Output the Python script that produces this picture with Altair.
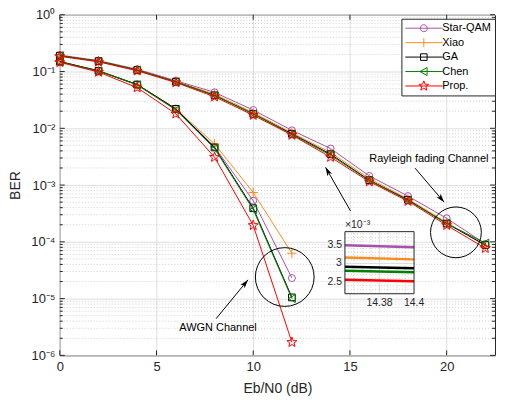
import math
import json
import altair as alt
import pandas as pd

FONT = "Liberation Sans"

# ---------------- data ----------------
series = ["Star-QAM", "Xiao", "GA", "Chen", "Prop."]
series_colors = ["#A652AC", "#FF8C1A", "#000000", "#008000", "#FF0000"]

snr_rayleigh = [0, 2, 4, 6, 8, 10, 12, 14, 16, 18, 20, 22]
star_rayleigh = [0.195, 0.156, 0.110, 0.069, 0.043, 0.021, 0.0092, 0.0044, 0.00145, 0.00064, 0.00026, 0.000092]
xiao_rayleigh = [0.190, 0.153, 0.107, 0.067, 0.040, 0.019, 0.0083, 0.00375, 0.0013, 0.00057, 0.00022, 0.000085]
ga_rayleigh = [0.190, 0.152, 0.106, 0.066, 0.038, 0.018, 0.0080, 0.0035, 0.00122, 0.00055, 0.00021, 0.000088]
chen_rayleigh = [0.190, 0.152, 0.106, 0.066, 0.038, 0.018, 0.0078, 0.00335, 0.0012, 0.00054, 0.00021, 0.000095]
prop_rayleigh = [0.185, 0.148, 0.103, 0.064, 0.036, 0.017, 0.0076, 0.0031, 0.00115, 0.00052, 0.000196, 0.000077]

snr_awgn = [0, 2, 4, 6, 8, 10, 12]
star_awgn = [0.150, 0.103, 0.059, 0.022, 0.0047, 0.00053, 0.000023]
xiao_awgn = [0.150, 0.103, 0.059, 0.022, 0.0053, 0.00074, 0.000063]
ga_awgn = [0.150, 0.103, 0.059, 0.022, 0.0046, 0.00039, 0.0000105]
chen_awgn = [0.148, 0.102, 0.058, 0.021, 0.0044, 0.00037, 0.0000100]
prop_awgn = [0.145, 0.098, 0.052, 0.018, 0.0031, 0.000195, 0.0000017]

x_ticks = [0, 5, 10, 15, 20]
y_ticks = [1, 0.1, 0.01, 0.001, 0.0001, 0.00001, 0.000001]
y_tick_labels = ["10\u2070", "10\u207b\u00b9", "10\u207b\u00b2", "10\u207b\u00b3",
                 "10\u207b\u2074", "10\u207b\u2075", "10\u207b\u2076"]

# zoomed inset (around Eb/N0 = 14.38 .. 14.4)
inset_x = [14.36, 14.40]
inset_star = [3.49, 3.44]
inset_xiao = [3.16, 3.11]
inset_ga = [2.91, 2.87]
inset_chen = [2.80, 2.76]
inset_prop = [2.56, 2.52]
inset_x_domain = [14.36, 14.40]
inset_y_domain = [2.18, 3.86]
inset_y_ticks = [2.5, 3.0, 3.5]
inset_y_labels = ["2.5", "3", "3.5"]
inset_x_ticks = [14.38, 14.40]
inset_x_labels = ["14.38", "14.4"]

# annotations
note_text = ["Rayleigh fading Channel", "AWGN Channel"]
note_x = [16.0, 6.18]
note_y = [0.00293, 0.00000299]
circle_x = [20.48, 11.63]
circle_y = [0.000147, 0.000024]
circle_d = [51, 59]
arrow_x1 = [18.37, 15.03, 8.08]
arrow_y1 = [0.00198, 0.00035, 0.00000443]
arrow_x2 = [19.87, 13.74, 9.73]
arrow_y2 = [0.00050, 0.00205, 0.0000214]
arrow_angle = [140, 331, 39]

# ---------------- layout / styles ----------------
W, H = 437, 342
K = H / 351.0
TXT = "#262626"
GRID = "#dedede"

series_rayleigh = [star_rayleigh, xiao_rayleigh, ga_rayleigh, chen_rayleigh, prop_rayleigh]
series_awgn = [star_awgn, xiao_awgn, ga_awgn, chen_awgn, prop_awgn]
series_inset = [inset_star, inset_xiao, inset_ga, inset_chen, inset_prop]


def star_path(cx=0.0, R=1.0, r=0.42):
    pts = []
    for i in range(10):
        ang = math.radians(-90 + 36 * i)
        rad = R if i % 2 == 0 else r
        pts.append((cx + rad * math.cos(ang), rad * math.sin(ang)))
    return "M" + "L".join(f"{x:.4f},{y:.4f}" for x, y in pts) + "Z"


marker_shapes = ["circle", "M-1,0L1,0M0,-1L0,1", "square", "triangle-left", star_path()]
marker_sizes = [49, 90, 45, 64, 110]

# legend symbols: a 38 px line with the marker in its middle
LS = 36
u = 2.0 / LS            # one pixel in path units
hl = 19 * u             # half line length
LINE = f"M{-hl:.4f},0L{hl:.4f},0"
legend_paths = [
    LINE + f"M{3.5*u:.4f},0A{3.5*u:.4f},{3.5*u:.4f} 0 1,1 {-3.5*u:.4f},0A{3.5*u:.4f},{3.5*u:.4f} 0 1,1 {3.5*u:.4f},0",
    LINE + f"M0,{-4.5*u:.4f}L0,{4.5*u:.4f}",
    LINE + f"M{-3.3*u:.4f},{-3.3*u:.4f}L{3.3*u:.4f},{-3.3*u:.4f}L{3.3*u:.4f},{3.3*u:.4f}L{-3.3*u:.4f},{3.3*u:.4f}Z",
    LINE + f"M{-3.8*u:.4f},0L{3.3*u:.4f},{-4*u:.4f}L{3.3*u:.4f},{4*u:.4f}Z",
    LINE + star_path(0.0, 5.2 * u, 2.2 * u),
]

x_scale = alt.Scale(domain=[0, 22.5], nice=False, zero=False)
y_scale = alt.Scale(type="log", domain=[1e-6, 1], nice=False)

axis_x = alt.Axis(values=x_ticks, title="Eb/N0 (dB)", grid=True, gridColor=GRID, gridWidth=1,
                  domain=False, ticks=False, labelFontSize=13, titleFontSize=14,
                  labelPadding=5, titlePadding=8, labelColor=TXT, titleColor=TXT,
                  labelFont=FONT, titleFont=FONT, titleFontWeight="normal", labelFlush=False)
axis_y = alt.Axis(values=y_ticks, title="BER", grid=True, gridColor=GRID, gridWidth=1,
                  domain=False, ticks=False, labelFontSize=13, titleFontSize=14,
                  labelPadding=5, titlePadding=8, labelColor=TXT, titleColor=TXT,
                  labelFont=FONT, titleFont=FONT, titleFontWeight="normal", labelFlush=False,
                  labelExpr=json.dumps(y_tick_labels, ensure_ascii=False)
                  + "[round(-log(datum.value)/LN10)]")

X = lambda f: alt.X(f, type="quantitative", scale=x_scale, axis=axis_x)
Y = lambda f: alt.Y(f, type="quantitative", scale=y_scale, axis=axis_y)

main_layers = []

# minor log grid (dotted)
minor_vals = [m * 10.0 ** e for e in range(-6, 0) for m in range(2, 10)]
minor_df = pd.DataFrame({"y": minor_vals})
main_layers.append(alt.Chart(minor_df).mark_rule(color="#cfcfcf", strokeDash=[1, 2], strokeWidth=1)
                   .encode(y=Y("y")))

# inside ticks (box style)
maj_df = pd.DataFrame({"y": y_ticks})
xt_df = pd.DataFrame({"x": x_ticks})
for xa, xb in [(0, 5), (W, W - 5)]:
    main_layers.append(alt.Chart(maj_df).mark_rule(color=TXT, strokeWidth=1)
                       .encode(y=Y("y"), x=alt.value(xa), x2=alt.value(xb)))
for xa, xb in [(0, 3), (W, W - 3)]:
    main_layers.append(alt.Chart(minor_df).mark_rule(color=TXT, strokeWidth=1)
                       .encode(y=Y("y"), x=alt.value(xa), x2=alt.value(xb)))
for ya, yb in [(H, H - 5), (0, 5)]:
    main_layers.append(alt.Chart(xt_df).mark_rule(color=TXT, strokeWidth=1)
                       .encode(x=X("x"), y=alt.value(ya), y2=alt.value(yb)))

# series
for name, col, shp, sz, ray, awg in zip(series, series_colors, marker_shapes, marker_sizes,
                                        series_rayleigh, series_awgn):
    df = pd.concat([
        pd.DataFrame({"x": snr_rayleigh, "y": ray, "ch": "Rayleigh"}),
        pd.DataFrame({"x": snr_awgn, "y": awg, "ch": "AWGN"}),
    ], ignore_index=True)
    main_layers.append(alt.Chart(df).mark_line(color=col, strokeWidth=1)
                       .encode(x=X("x"), y=Y("y"), detail="ch:N", order="x:Q"))
    main_layers.append(alt.Chart(df).mark_point(color=col, filled=False, strokeWidth=1, opacity=1,
                                                shape=shp, size=sz)
                       .encode(x=X("x"), y=Y("y")))

# annotations: circles, arrows, text
circ_df = pd.DataFrame({"x": circle_x, "y": circle_y, "s": [d * d for d in circle_d]})
main_layers.append(alt.Chart(circ_df).mark_point(shape="circle", filled=False, color="black",
                                                 strokeWidth=1, opacity=1)
                   .encode(x=X("x"), y=Y("y"), size=alt.Size("s:Q", scale=None, legend=None)))
arr_df = pd.DataFrame({"x": arrow_x1, "y": arrow_y1, "x2": arrow_x2, "y2": arrow_y2, "a": arrow_angle})
main_layers.append(alt.Chart(arr_df).mark_rule(color="black", strokeWidth=1)
                   .encode(x=X("x"), y=Y("y"), x2="x2", y2="y2"))
main_layers.append(alt.Chart(arr_df).mark_point(shape="M0,0L-1,3.2L0,2.4L1,3.2Z", filled=True,
                                                color="black", size=30, opacity=1)
                   .encode(x=X("x2"), y=Y("y2"), angle=alt.Angle("a:Q", scale=None)))
note_df = pd.DataFrame({"x": note_x, "y": note_y, "t": note_text})
main_layers.append(alt.Chart(note_df).mark_text(align="left", baseline="middle", fontSize=11,
                                                font=FONT, color="black")
                   .encode(x=X("x"), y=Y("y"), text="t:N"))

# legend (legend-only layer)
leg = alt.Legend(title=None, orient="none", legendX=343, legendY=4, symbolSize=LS * LS,
                 clipHeight=11, symbolStrokeWidth=1, labelOffset=0, padding=4, rowPadding=2.5,
                 labelFontSize=11, labelFont=FONT, labelColor="black", strokeColor=TXT,
                 fillColor="white", cornerRadius=0)
leg_df = pd.DataFrame({"series": series})
main_layers.append(alt.Chart(leg_df).transform_filter("datum.series == '__none__'")
                   .mark_point(filled=False, strokeWidth=1, opacity=1)
                   .encode(color=alt.Color("series:N", scale=alt.Scale(domain=series, range=series_colors), legend=leg),
                           shape=alt.Shape("series:N", scale=alt.Scale(domain=series, range=legend_paths), legend=leg)))

main = alt.layer(*main_layers)

# ---------------- inset ----------------
ix = alt.Scale(domain=inset_x_domain, range=[286.3, 355.7], nice=False, zero=False)
iy = alt.Scale(domain=inset_y_domain, range=[287.5 * K, 223.5 * K], nice=False, zero=False)
IX = lambda f: alt.X(f, type="quantitative", scale=ix, axis=None)
IY = lambda f: alt.Y(f, type="quantitative", scale=iy, axis=None)

box_df = pd.DataFrame({"x0": [inset_x_domain[0]], "x1": [inset_x_domain[1]],
                       "y0": [inset_y_domain[0]], "y1": [inset_y_domain[1]]})
inset_layers = []
inset_layers.append(alt.Chart(box_df).mark_rect(fill="white")
                    .encode(x=IX("x0"), x2="x1", y=IY("y0"), y2="y1"))
vminor = [14.365, 14.37, 14.375, 14.385, 14.39, 14.395]
hminor = [v / 10 for v in range(22, 39) if v not in (25, 30, 35)]
vm_df = pd.DataFrame({"x": vminor, "y0": inset_y_domain[0], "y1": inset_y_domain[1]})
hm_df = pd.DataFrame({"y": hminor, "x0": inset_x_domain[0], "x1": inset_x_domain[1]})
inset_layers.append(alt.Chart(vm_df).mark_rule(color="#cfcfcf", strokeDash=[1, 2])
                    .encode(x=IX("x"), y=IY("y0"), y2="y1"))
inset_layers.append(alt.Chart(hm_df).mark_rule(color="#cfcfcf", strokeDash=[1, 2])
                    .encode(y=IY("y"), x=IX("x0"), x2="x1"))
vg_df = pd.DataFrame({"x": [inset_x_ticks[0]], "y0": inset_y_domain[0], "y1": inset_y_domain[1]})
hg_df = pd.DataFrame({"y": inset_y_ticks, "x0": inset_x_domain[0], "x1": inset_x_domain[1]})
inset_layers.append(alt.Chart(vg_df).mark_rule(color=GRID)
                    .encode(x=IX("x"), y=IY("y0"), y2="y1"))
inset_layers.append(alt.Chart(hg_df).mark_rule(color=GRID)
                    .encode(y=IY("y"), x=IX("x0"), x2="x1"))
for col, vals in zip(series_colors, series_inset):
    idf = pd.DataFrame({"x": inset_x, "y": vals})
    inset_layers.append(alt.Chart(idf).mark_line(color=col, strokeWidth=2.5)
                        .encode(x=IX("x"), y=IY("y")))
inset_layers.append(alt.Chart(box_df).mark_rect(fillOpacity=0, stroke=TXT, strokeWidth=1)
                    .encode(x=IX("x0"), x2="x1", y=IY("y0"), y2="y1"))
iyl_df = pd.DataFrame({"y": inset_y_ticks, "t": inset_y_labels, "x": inset_x_domain[0]})
inset_layers.append(alt.Chart(iyl_df).mark_text(align="right", baseline="middle", dx=-3,
                                                fontSize=10.5, font=FONT, color=TXT)
                    .encode(x=IX("x"), y=IY("y"), text="t:N"))
ixl_df = pd.DataFrame({"x": inset_x_ticks, "t": inset_x_labels, "y": inset_y_domain[0]})
inset_layers.append(alt.Chart(ixl_df).mark_text(align="center", baseline="middle", dy=9,
                                                fontSize=10.5, font=FONT, color=TXT)
                    .encode(x=IX("x"), y=IY("y"), text="t:N"))
exp_df = pd.DataFrame({"x": [inset_x_domain[0]], "y": [inset_y_domain[1]], "t": ["\u00d710\u207b\u00b3"]})
inset_layers.append(alt.Chart(exp_df).mark_text(align="left", baseline="middle", dy=-7,
                                                fontSize=10.5, font=FONT, color=TXT)
                    .encode(x=IX("x"), y=IY("y"), text="t:N"))

inset = alt.layer(*inset_layers)

chart = (alt.layer(main, inset)
         .resolve_scale(x="independent", y="independent")
         .properties(width=W, height=H, padding={"left": 0, "top": 0, "right": 2, "bottom": 0},
                     background="white")
         .configure_view(stroke=TXT, strokeWidth=1))

chart.save("out.html", embed_options={"renderer": "svg", "actions": False})
